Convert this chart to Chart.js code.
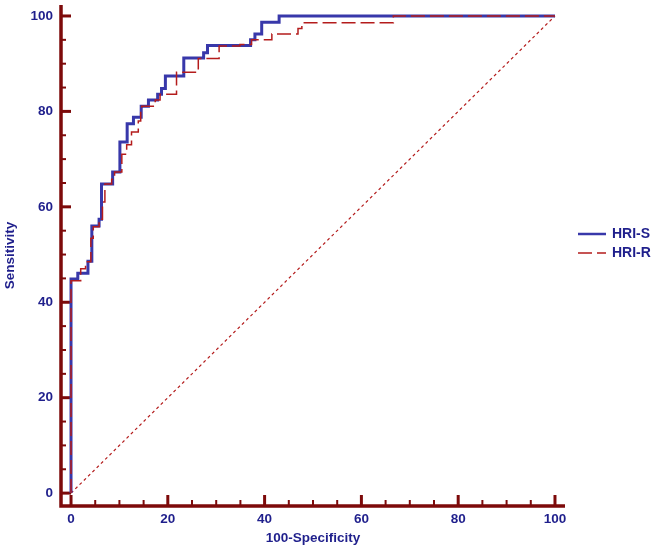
<!DOCTYPE html>
<html>
<head>
<meta charset="utf-8">
<script src="https://cdn.jsdelivr.net/npm/chart.js@4.4.1/dist/chart.umd.min.js"></script>
<style>
html, body { margin: 0; padding: 0; background: #fff; }
</style>
</head>
<body>
<canvas id="roc" width="658" height="552"></canvas>
<script>
// ROC curves (x = 100-Specificity, y = Sensitivity)
const hriSX = [0, 0, 1.4, 3.5, 4.3, 5.8, 6.3, 8.6, 10.1, 11.6, 12.9, 14.5, 16.0, 17.9, 18.7, 19.5, 23.3, 27.4, 28.2, 37.1, 38.0, 39.4, 43.0, 100];
const hriSY = [0, 44.9, 46.1, 48.6, 56.0, 57.4, 64.8, 67.3, 73.6, 77.4, 78.8, 81.1, 82.4, 83.6, 84.8, 87.4, 91.2, 92.3, 93.8, 95.0, 96.2, 98.7, 100, 100];

const hriRX = [0, 0, 2.0, 3.0, 4.1, 4.6, 5.8, 6.5, 7.0, 8.4, 9.0, 10.5, 11.5, 12.5, 13.9, 14.4, 14.6, 17.4, 18.4, 21.8, 26.3, 30.6, 34.9, 37.3, 41.5, 46.9, 47.7, 66.6, 100];
const hriRY = [0, 44.5, 47.0, 48.5, 53.4, 55.8, 57.4, 61.0, 64.8, 65.8, 67.3, 71.0, 73.0, 75.7, 78.0, 80.3, 81.1, 82.4, 83.6, 88.2, 91.1, 93.7, 94.0, 95.0, 96.2, 97.4, 98.6, 100, 100];

const diagX = [0, 100];
const diagY = [0, 100];

const xTicks = [0, 20, 40, 60, 80, 100];
const yTicks = [0, 20, 40, 60, 80, 100];
const minorStep = 5;

const seriesNames = ['HRI-S', 'HRI-R'];

const navy = '#1f1f8c';
const axisColor = '#7d0a0a';
const blue = '#3838aa';
const red = '#b41c1c';
const fontFam = '"Liberation Sans", Arial, sans-serif';

function toPoints(xs, ys) {
    return xs.map((x, i) => ({ x: x, y: ys[i] }));
}

// axes with inward ticks, like the original
const rocAxes = {
    id: 'rocAxes',
    beforeDatasetsDraw(chart) {
        const { ctx, chartArea: a, scales: { x, y } } = chart;
        ctx.save();
        ctx.strokeStyle = axisColor;
        ctx.lineWidth = 3.5;
        ctx.beginPath();
        ctx.moveTo(a.left, a.top);
        ctx.lineTo(a.left, a.bottom);
        ctx.lineTo(a.right, a.bottom);
        ctx.stroke();
        for (let v = 0; v <= 100; v += minorStep) {
            const major = v % 20 === 0;
            ctx.lineWidth = major ? 3 : 2;
            const py = y.getPixelForValue(v);
            ctx.beginPath();
            ctx.moveTo(a.left, py);
            ctx.lineTo(a.left + (major ? 10 : 5), py);
            ctx.stroke();
            const px = x.getPixelForValue(v);
            ctx.beginPath();
            ctx.moveTo(px, a.bottom);
            ctx.lineTo(px, a.bottom - (major ? 11 : 6));
            ctx.stroke();
        }
        ctx.restore();
    },
    afterDraw(chart) {
        // legend on the right
        const { ctx, chartArea: a } = chart;
        ctx.save();
        ctx.font = 'bold 14px ' + fontFam;
        ctx.textBaseline = 'middle';
        ctx.fillStyle = navy;
        const lx = a.right + 13;
        const rows = [234, 253];
        chart.data.datasets.slice(0, 2).forEach((ds, i) => {
            ctx.strokeStyle = ds.borderColor;
            ctx.lineWidth = i === 0 ? 2.5 : 1.5;
            ctx.setLineDash(ds.borderDash || []);
            ctx.beginPath();
            ctx.moveTo(lx, rows[i]);
            ctx.lineTo(lx + 28, rows[i]);
            ctx.stroke();
            ctx.setLineDash([]);
            ctx.fillText(seriesNames[i], lx + 34, rows[i]);
        });
        ctx.restore();
    }
};

const tickFont = { family: fontFam, size: 13.5, weight: 'bold' };

new Chart(document.getElementById('roc'), {
    type: 'scatter',
    data: {
        datasets: [
            {
                label: seriesNames[0],
                data: toPoints(hriSX, hriSY),
                showLine: true,
                stepped: 'before',
                borderColor: blue,
                borderWidth: 3,
                pointRadius: 0,
                fill: false,
                order: 1
            },
            {
                label: seriesNames[1],
                data: toPoints(hriRX, hriRY),
                showLine: true,
                stepped: 'before',
                borderColor: red,
                borderWidth: 1.5,
                borderDash: [14, 5],
                pointRadius: 0,
                fill: false,
                order: 0
            },
            {
                label: 'diagonal',
                data: toPoints(diagX, diagY),
                showLine: true,
                borderColor: red,
                borderWidth: 1.2,
                borderDash: [3, 3],
                pointRadius: 0,
                fill: false,
                order: 2
            }
        ]
    },
    options: {
        responsive: false,
        animation: false,
        devicePixelRatio: 1,
        layout: { padding: { top: 5, right: 93, left: 0, bottom: 0 } },
        plugins: {
            legend: { display: false },
            tooltip: { enabled: false }
        },
        scales: {
            x: {
                type: 'linear',
                min: -2.07,
                max: 102.07,
                grid: { display: false, drawTicks: false, tickLength: 0 },
                border: { display: false },
                ticks: { font: tickFont, color: navy, padding: 5, includeBounds: false },
                afterBuildTicks: s => { s.ticks = xTicks.map(v => ({ value: v })); },
                afterFit: s => { s.height = 46; s.paddingLeft = 0; s.paddingRight = 0; },
                title: {
                    display: true,
                    text: '100-Specificity',
                    color: navy,
                    font: { family: fontFam, size: 13.5, weight: 'bold' },
                    padding: { top: 0, bottom: 6 }
                }
            },
            y: {
                type: 'linear',
                min: -2.7,
                max: 102.3,
                grid: { display: false, drawTicks: false, tickLength: 0 },
                border: { display: false },
                ticks: { font: tickFont, color: navy, padding: 8, includeBounds: false },
                afterBuildTicks: s => { s.ticks = yTicks.map(v => ({ value: v })); },
                afterFit: s => { s.width = 61; s.paddingTop = 0; s.paddingBottom = 0; },
                title: {
                    display: true,
                    text: 'Sensitivity',
                    color: navy,
                    font: { family: fontFam, size: 13.5, weight: 'bold' },
                    padding: { top: 2, bottom: 0 }
                }
            }
        }
    },
    plugins: [rocAxes]
});
</script>
</body>
</html>
